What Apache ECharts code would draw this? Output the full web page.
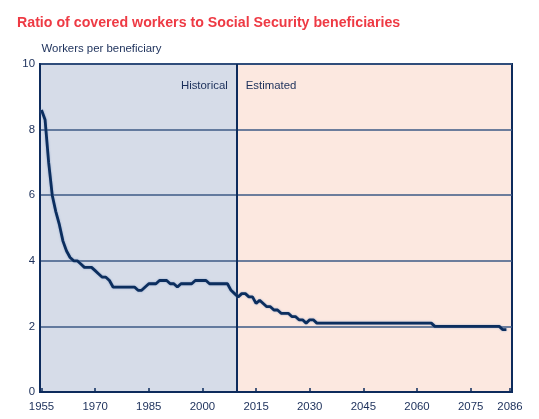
<!DOCTYPE html>
<html>
<head>
<meta charset="utf-8">
<script src="https://cdn.jsdelivr.net/npm/echarts@6/dist/echarts.min.js"></script>
<style>html,body{margin:0;padding:0;background:#fff}#c{width:539px;height:419px}</style>
</head>
<body>
<div id="c"></div>
<script>
var years = [];
for (var y = 1955; y <= 2085; y++) years.push(y);

var ratios = [
  8.6, 8.3, 7.0, 6.0, 5.5, 5.1, 4.6, 4.3, 4.1, 4.0,   // 1955-1964
  4.0, 3.9, 3.8, 3.8, 3.8, 3.7, 3.6, 3.5, 3.5, 3.4,   // 1965-1974
  3.2, 3.2, 3.2, 3.2, 3.2, 3.2, 3.2, 3.1, 3.1, 3.2,   // 1975-1984
  3.3, 3.3, 3.3, 3.4, 3.4, 3.4, 3.3, 3.3, 3.2, 3.3,   // 1985-1994
  3.3, 3.3, 3.3, 3.4, 3.4, 3.4, 3.4, 3.3, 3.3, 3.3,   // 1995-2004
  3.3, 3.3, 3.3, 3.1, 3.0, 2.9, 3.0, 3.0, 2.9, 2.9,   // 2005-2014
  2.7, 2.8, 2.7, 2.6, 2.6, 2.5, 2.5, 2.4, 2.4, 2.4,   // 2015-2024
  2.3, 2.3, 2.2, 2.2, 2.1, 2.2, 2.2, 2.1, 2.1, 2.1,   // 2025-2034
  2.1, 2.1, 2.1, 2.1, 2.1, 2.1, 2.1, 2.1, 2.1, 2.1,   // 2035-2044
  2.1, 2.1, 2.1, 2.1, 2.1, 2.1, 2.1, 2.1, 2.1, 2.1,   // 2045-2054
  2.1, 2.1, 2.1, 2.1, 2.1, 2.1, 2.1, 2.1, 2.1, 2.1,   // 2055-2064
  2.0, 2.0, 2.0, 2.0, 2.0, 2.0, 2.0, 2.0, 2.0, 2.0,   // 2065-2074
  2.0, 2.0, 2.0, 2.0, 2.0, 2.0, 2.0, 2.0, 2.0, 1.9,   // 2075-2084
  1.9                                                 // 2085
];

var xTickLabels = [1955, 1970, 1985, 2000, 2015, 2030, 2045, 2060, 2075, 2086];
var yTicks = [0, 2, 4, 6, 8, 10];
var boundaryYear = 2009.6;
var regionLabels = ['Historical', 'Estimated'];

var navy = '#0d2b5c';
var textNavy = '#1b2f5a';
var font = 'Liberation Sans, Arial, sans-serif';

var lineData = years.map(function (yr, i) { return [yr, ratios[i]]; });

var chart = echarts.init(document.getElementById('c'), null, {renderer: 'canvas'});
chart.setOption({
  animation: false,
  backgroundColor: '#ffffff',
  title: [
    {
      text: 'Ratio of covered workers to Social Security beneficiaries',
      left: 17, top: 16, padding: 0,
      textStyle: {color: '#ee3a44', fontSize: 14.2, fontWeight: 'bold', fontFamily: font}
    },
    {
      text: 'Workers per beneficiary',
      left: 41.5, top: 43, padding: 0,
      textStyle: {color: textNavy, fontSize: 11.4, fontWeight: 'normal', fontFamily: font}
    }
  ],
  grid: {
    left: 40, right: 27, top: 64, bottom: 27,
    show: true, borderColor: navy, borderWidth: 2, backgroundColor: 'transparent', z: 4
  },
  xAxis: {
    type: 'value',
    min: 1954.58, max: 2086.57,
    z: 4,
    axisLine: {show: true, lineStyle: {color: navy, width: 2}},
    axisTick: {show: true, inside: true, length: 4, customValues: xTickLabels, lineStyle: {color: navy, width: 1.5}},
    axisLabel: {
      customValues: xTickLabels, margin: 9,
      color: textNavy, fontSize: 11.4, fontFamily: font,
      formatter: function (v) { return String(Math.round(v)); }
    },
    splitLine: {show: false}
  },
  yAxis: {
    type: 'value',
    min: 0, max: 10, interval: 2,
    z: 4,
    axisLine: {show: true, lineStyle: {color: navy, width: 2}},
    axisTick: {show: false},
    axisLabel: {margin: 5, color: textNavy, fontSize: 11.4, fontFamily: font},
    splitLine: {show: true, lineStyle: {color: '#3d5a86', width: 1.5}}
  },
  series: [
    {
      name: 'bg',
      type: 'line',
      z: 1,
      silent: true,
      data: lineData,
      showSymbol: false,
      lineStyle: {opacity: 0},
      markArea: {
        silent: true,
        data: [
          [
            {xAxis: 1954.58, itemStyle: {color: '#d6dce8'},
             label: {show: true, position: 'insideTopRight', distance: 9, offset: [0, 7], formatter: regionLabels[0], color: textNavy, fontSize: 11.4, fontFamily: font}},
            {xAxis: boundaryYear}
          ],
          [
            {xAxis: boundaryYear, itemStyle: {color: '#fce8e0'},
             label: {show: true, position: 'insideTopLeft', distance: 9, offset: [0, 7], formatter: regionLabels[1], color: textNavy, fontSize: 11.4, fontFamily: font}},
            {xAxis: 2086.57}
          ]
        ]
      },
      markLine: {
        silent: true,
        symbol: 'none',
        label: {show: false},
        lineStyle: {color: navy, width: 2, type: 'solid'},
        data: [{xAxis: boundaryYear}]
      }
    },
    {
      name: 'Ratio',
      type: 'line',
      z: 6,
      data: lineData,
      showSymbol: false,
      lineStyle: {color: '#0c2e5e', width: 2.8, shadowColor: 'rgba(110,140,190,0.7)', shadowBlur: 2},
      emphasis: {disabled: true}
    }
  ]
});
</script>
</body>
</html>
